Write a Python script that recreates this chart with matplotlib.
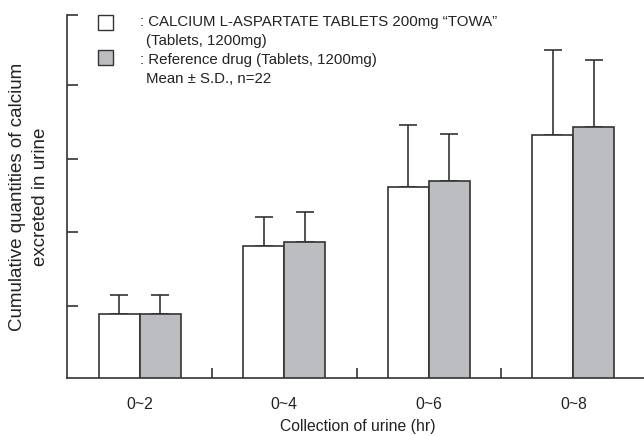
import matplotlib.pyplot as plt
from matplotlib.patches import Rectangle
import numpy as np

plt.rcParams['font.family'] = ['Liberation Sans', 'DejaVu Sans']

# datos (unidades arbitrarias, eixo sem valores)
categories = ['0~2', '0~4', '0~6', '0~8']
towa_mean = [0.87, 1.79, 2.59, 3.30]
towa_sd = [0.26, 0.40, 0.84, 1.16]
ref_mean = [0.87, 1.85, 2.68, 3.41]
ref_sd = [0.26, 0.40, 0.63, 0.91]

grey = '#bcbdc0'
edge = '#333333'

fig = plt.figure(figsize=(6.44, 4.36), dpi=100)
ax = fig.add_axes([0.1048, 0.133, 0.9, 0.8326])

x = np.arange(len(categories))
w = 0.283

ax.bar(x - w/2, towa_mean, w, color='white', edgecolor=edge, linewidth=1.2, zorder=3)
ax.bar(x + w/2, ref_mean, w, color=grey, edgecolor=edge, linewidth=1.2, zorder=3)

# barras de erro so para cima
ax.errorbar(x - w/2, towa_mean, yerr=[np.zeros(4), towa_sd], fmt='none',
            ecolor=edge, elinewidth=1.2, capsize=6.5, capthick=1.2, zorder=2)
ax.errorbar(x + w/2, ref_mean, yerr=[np.zeros(4), ref_sd], fmt='none',
            ecolor=edge, elinewidth=1.2, capsize=6.5, capthick=1.2, zorder=2)

ax.set_xlim(-0.5, 3.5 + 0.01)
ax.set_ylim(0, 4.93)
ax.set_xticks(x)
ax.set_xticklabels(categories, fontsize=11.3, color='#222222')
ax.tick_params(axis='x', which='major', length=0, pad=14)
ax.set_xticks([0.5, 1.5, 2.5], minor=True)
ax.tick_params(axis='x', which='minor', direction='in', length=7, width=1.2, color=edge)
ax.set_yticks([0.98, 1.98, 2.98, 3.98, 4.93])
ax.set_yticklabels([])
ax.tick_params(axis='y', direction='in', length=8, width=1.2, color=edge)

for s in ['top', 'right']:
    ax.spines[s].set_visible(False)
for s in ['left', 'bottom']:
    ax.spines[s].set_linewidth(1.2)
    ax.spines[s].set_color(edge)

ax.set_xlabel('Collection of urine (hr)', fontsize=11.3, color='#222222', labelpad=5)
ax.set_ylabel('Cumulative quantities of calcium\nexcreted in urine', fontsize=13.5,
              color='#222222', labelpad=10, linespacing=1.45)

# legenda desenhada a mao
W, H = 644, 436
def px(xp, yp):
    return xp / W, 1 - yp / H

for (yp, col) in [(15, 'white'), (50, grey)]:
    fx, fy = px(98, yp + 15)
    fig.patches.append(Rectangle((fx, fy), 15 / W, 15 / H, transform=fig.transFigure,
                                 facecolor=col, edgecolor=edge, linewidth=1.0))

lines = [(140, 22, ': CALCIUM L-ASPARTATE TABLETS 200mg \u201cTOWA\u201d'),
         (146, 41, '(Tablets, 1200mg)'),
         (140, 60, ': Reference drug (Tablets, 1200mg)'),
         (146, 79, 'Mean \u00b1 S.D., n=22')]
for xp, yp, t in lines:
    fx, fy = px(xp, yp)
    fig.text(fx, fy, t, fontsize=10.8, color='#222222', va='center', ha='left')

fig.savefig('out.png', dpi=100)
